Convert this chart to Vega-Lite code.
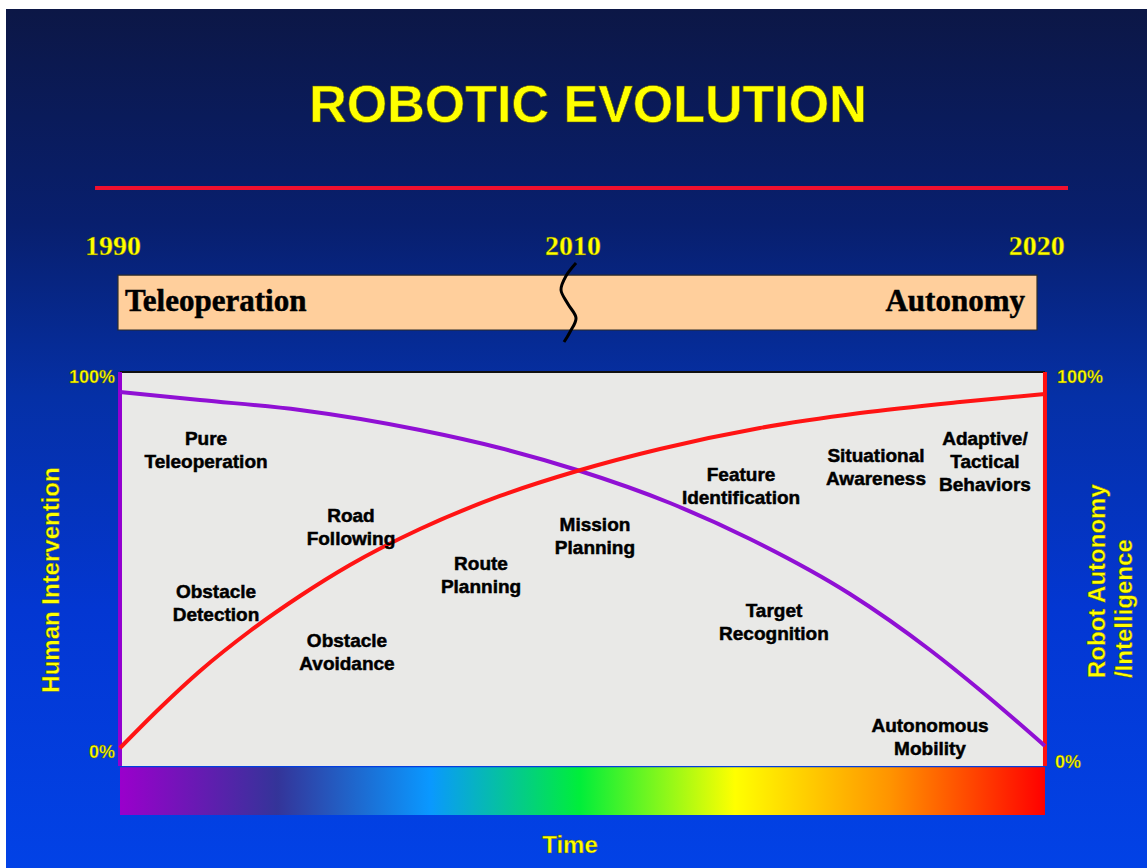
{
  "$schema": "https://vega.github.io/schema/vega-lite/v6.json",
  "width": 1147,
  "height": 868,
  "autosize": {"type": "fit", "contains": "padding"},
  "padding": 0,
  "background": "#ffffff",
  "config": {"view": {"stroke": null}},
  "datasets": {
    "bg": [{"x": -12.324, "x2": 111.03, "y": -25.89, "y2": 192.13}],
    "redline": [{"x": -2.70, "x2": 102.49, "y": 146.7}],
    "years": [
      {"x": -0.76, "y": 131.7, "t": "1990"},
      {"x": 48.97, "y": 131.7, "t": "2010"},
      {"x": 99.1, "y": 131.7, "t": "2020"}
    ],
    "peach": [{"x": -0.22, "x2": 99.14, "y": 110.66, "y2": 124.6}],
    "peachLeft": [{"x": 0.54, "y": 117.8, "t": "Teleoperation"}],
    "peachRight": [{"x": 97.84, "y": 117.8, "t": "Autonomy"}],
    "squiggle": [
      {"o": 1, "x": 49.30, "y": 127.66},
      {"o": 2, "x": 48.22, "y": 124.37},
      {"o": 3, "x": 47.68, "y": 120.81},
      {"o": 4, "x": 48.43, "y": 117.26},
      {"o": 5, "x": 49.30, "y": 113.71},
      {"o": 6, "x": 48.65, "y": 110.15},
      {"o": 7, "x": 48.0, "y": 107.61}
    ],
    "plot": [{"x": 0, "x2": 100, "y": 0, "y2": 100}],
    "rainbow": [{"x": 0, "x2": 100, "y": -12.44, "y2": -0.3}],
    "topBorder": [{"x": 0, "x2": 100, "y": 100}],
    "leftBorder": [{"x": 0, "y": 0, "y2": 100}],
    "rightBorder": [{"x": 100, "y": 0, "y2": 100}],
    "curves": [
      {"s": "Human Intervention", "x": 0, "y": 94.92},
      {"s": "Human Intervention", "x": 8.65, "y": 92.89},
      {"s": "Human Intervention", "x": 19.46, "y": 90.36},
      {"s": "Human Intervention", "x": 32.43, "y": 85.28},
      {"s": "Human Intervention", "x": 41.08, "y": 80.71},
      {"s": "Human Intervention", "x": 49.41, "y": 75.13},
      {"s": "Human Intervention", "x": 59.46, "y": 66.75},
      {"s": "Human Intervention", "x": 68.11, "y": 57.61},
      {"s": "Human Intervention", "x": 78.92, "y": 43.65},
      {"s": "Human Intervention", "x": 87.57, "y": 29.44},
      {"s": "Human Intervention", "x": 92.97, "y": 19.29},
      {"s": "Human Intervention", "x": 100, "y": 5.08},
      {"s": "Robot Autonomy", "x": 0, "y": 4.57},
      {"s": "Robot Autonomy", "x": 4.32, "y": 14.72},
      {"s": "Robot Autonomy", "x": 8.65, "y": 24.11},
      {"s": "Robot Autonomy", "x": 14.05, "y": 34.26},
      {"s": "Robot Autonomy", "x": 19.46, "y": 43.15},
      {"s": "Robot Autonomy", "x": 24.86, "y": 51.02},
      {"s": "Robot Autonomy", "x": 32.43, "y": 60.15},
      {"s": "Robot Autonomy", "x": 41.08, "y": 68.53},
      {"s": "Robot Autonomy", "x": 49.41, "y": 74.87},
      {"s": "Robot Autonomy", "x": 58.38, "y": 80.46},
      {"s": "Robot Autonomy", "x": 69.19, "y": 85.79},
      {"s": "Robot Autonomy", "x": 80.0, "y": 89.59},
      {"s": "Robot Autonomy", "x": 90.81, "y": 92.39},
      {"s": "Robot Autonomy", "x": 100, "y": 94.42}
    ],
    "labels": [
      {"x": 9.30, "y": 83.0, "t": "Pure\nTeleoperation"},
      {"x": 24.97, "y": 63.45, "t": "Road\nFollowing"},
      {"x": 10.38, "y": 44.16, "t": "Obstacle\nDetection"},
      {"x": 24.54, "y": 31.73, "t": "Obstacle\nAvoidance"},
      {"x": 39.03, "y": 51.27, "t": "Route\nPlanning"},
      {"x": 51.35, "y": 61.17, "t": "Mission\nPlanning"},
      {"x": 67.14, "y": 73.86, "t": "Feature\nIdentification"},
      {"x": 81.73, "y": 78.68, "t": "Situational\nAwareness"},
      {"x": 93.51, "y": 83.0, "t": "Adaptive/\nTactical\nBehaviors"},
      {"x": 70.7, "y": 39.34, "t": "Target\nRecognition"},
      {"x": 87.57, "y": 10.15, "t": "Autonomous\nMobility"}
    ],
    "pctLeft": [
      {"x": -0.54, "y": 98.48, "t": "100%"},
      {"x": -0.54, "y": 3.3, "t": "0%"}
    ],
    "pctRight": [
      {"x": 101.3, "y": 98.48, "t": "100%"},
      {"x": 101.08, "y": 0.76, "t": "0%"}
    ],
    "leftTitle": [{"x": -7.35, "y": 47.2, "t": "Human Intervention"}],
    "rightTitle": [{"x": 105.78, "y": 22.34, "t": "Robot Autonomy\n/Intelligence"}],
    "timeTitle": [{"x": 48.65, "y": -20.3, "t": "Time"}],
    "title": [{"x": 50.6, "y": 167.6, "t": "ROBOTIC EVOLUTION"}]
  },
  "encoding": {
    "x": {"field": "x", "type": "quantitative", "scale": {"domain": [-12.973, 111.03], "nice": false, "zero": false}, "axis": null},
    "y": {"field": "y", "type": "quantitative", "scale": {"domain": [-25.89, 194.42], "nice": false, "zero": false}, "axis": null}
  },
  "layer": [
    {
      "data": {"name": "bg"},
      "mark": {"type": "rect", "color": {"gradient": "linear", "x1": 0, "y1": 0, "x2": 0, "y2": 1, "stops": [
        {"offset": 0, "color": "#0c1746"},
        {"offset": 0.25, "color": "#081f6e"},
        {"offset": 0.45, "color": "#0530a6"},
        {"offset": 0.7, "color": "#0337d2"},
        {"offset": 1, "color": "#0242e6"}
      ]}},
      "encoding": {"x2": {"field": "x2"}, "y2": {"field": "y2"}}
    },
    {
      "data": {"name": "redline"},
      "mark": {"type": "rule", "color": "#f0102e", "strokeWidth": 4},
      "encoding": {"x2": {"field": "x2"}}
    },
    {
      "data": {"name": "title"},
      "mark": {"type": "text", "font": "Liberation Sans", "fontWeight": "bold", "fontSize": 52, "color": "#ffff00", "stroke": "#5a5a00", "strokeWidth": 0.6, "align": "center", "baseline": "middle"},
      "encoding": {"text": {"field": "t"}}
    },
    {
      "data": {"name": "years"},
      "mark": {"type": "text", "font": "Liberation Serif", "fontWeight": "bold", "fontSize": 28, "color": "#ffff00", "stroke": "#5a5a00", "strokeWidth": 0.4, "align": "center", "baseline": "middle"},
      "encoding": {"text": {"field": "t"}}
    },
    {
      "data": {"name": "peach"},
      "mark": {"type": "rect", "color": "#ffcf9c", "stroke": "#2a2a2a", "strokeWidth": 1.2},
      "encoding": {"x2": {"field": "x2"}, "y2": {"field": "y2"}}
    },
    {
      "data": {"name": "peachLeft"},
      "mark": {"type": "text", "font": "Liberation Serif", "fontWeight": "bold", "fontSize": 31, "color": "#000000", "stroke": "#000000", "strokeWidth": 0.5, "align": "left", "baseline": "middle"},
      "encoding": {"text": {"field": "t"}}
    },
    {
      "data": {"name": "peachRight"},
      "mark": {"type": "text", "font": "Liberation Serif", "fontWeight": "bold", "fontSize": 31, "color": "#000000", "stroke": "#000000", "strokeWidth": 0.5, "align": "right", "baseline": "middle"},
      "encoding": {"text": {"field": "t"}}
    },
    {
      "data": {"name": "squiggle"},
      "mark": {"type": "line", "color": "#000000", "strokeWidth": 3, "interpolate": "cardinal"},
      "encoding": {"order": {"field": "o", "type": "quantitative"}}
    },
    {
      "data": {"name": "plot"},
      "mark": {"type": "rect", "color": "#e9e9e7"},
      "encoding": {"x2": {"field": "x2"}, "y2": {"field": "y2"}}
    },
    {
      "data": {"name": "rainbow"},
      "mark": {"type": "rect", "color": {"gradient": "linear", "x1": 0, "y1": 0, "x2": 1, "y2": 0, "stops": [
        {"offset": 0, "color": "#9a00cc"},
        {"offset": 0.17, "color": "#343499"},
        {"offset": 0.335, "color": "#0a98ff"},
        {"offset": 0.497, "color": "#00ee3a"},
        {"offset": 0.665, "color": "#ffff00"},
        {"offset": 0.832, "color": "#ff9400"},
        {"offset": 1, "color": "#ff0000"}
      ]}},
      "encoding": {"x2": {"field": "x2"}, "y2": {"field": "y2"}}
    },
    {
      "data": {"name": "topBorder"},
      "mark": {"type": "rule", "color": "#111111", "strokeWidth": 2},
      "encoding": {"x2": {"field": "x2"}}
    },
    {
      "data": {"name": "leftBorder"},
      "mark": {"type": "rule", "color": "#9400d0", "strokeWidth": 4},
      "encoding": {"y2": {"field": "y2"}}
    },
    {
      "data": {"name": "rightBorder"},
      "mark": {"type": "rule", "color": "#ff1010", "strokeWidth": 4},
      "encoding": {"y2": {"field": "y2"}}
    },
    {
      "data": {"name": "curves"},
      "mark": {"type": "line", "strokeWidth": 4, "interpolate": "monotone"},
      "encoding": {
        "color": {"field": "s", "type": "nominal", "scale": {"domain": ["Human Intervention", "Robot Autonomy"], "range": ["#9010d4", "#ff1414"]}, "legend": null}
      }
    },
    {
      "data": {"name": "labels"},
      "mark": {"type": "text", "font": "Liberation Sans", "fontWeight": "bold", "fontSize": 19, "color": "#000000", "stroke": "#000000", "strokeWidth": 0.5, "align": "center", "baseline": "middle", "lineBreak": "\n", "lineHeight": 23},
      "encoding": {"text": {"field": "t"}}
    },
    {
      "data": {"name": "pctLeft"},
      "mark": {"type": "text", "font": "Liberation Sans", "fontWeight": "bold", "fontSize": 18, "color": "#ffff00", "stroke": "#5a5a00", "strokeWidth": 0.4, "align": "right", "baseline": "middle"},
      "encoding": {"text": {"field": "t"}}
    },
    {
      "data": {"name": "pctRight"},
      "mark": {"type": "text", "font": "Liberation Sans", "fontWeight": "bold", "fontSize": 18, "color": "#ffff00", "stroke": "#5a5a00", "strokeWidth": 0.4, "align": "left", "baseline": "middle"},
      "encoding": {"text": {"field": "t"}}
    },
    {
      "data": {"name": "leftTitle"},
      "mark": {"type": "text", "font": "Liberation Sans", "fontWeight": "bold", "fontSize": 24, "color": "#ffff00", "stroke": "#5a5a00", "strokeWidth": 0.4, "align": "center", "baseline": "middle", "angle": 270},
      "encoding": {"text": {"field": "t"}}
    },
    {
      "data": {"name": "rightTitle"},
      "mark": {"type": "text", "font": "Liberation Sans", "fontWeight": "bold", "fontSize": 24, "color": "#ffff00", "stroke": "#5a5a00", "strokeWidth": 0.4, "align": "left", "baseline": "middle", "angle": 270, "lineBreak": "\n", "lineHeight": 27},
      "encoding": {"text": {"field": "t"}}
    },
    {
      "data": {"name": "timeTitle"},
      "mark": {"type": "text", "font": "Liberation Sans", "fontWeight": "bold", "fontSize": 24, "color": "#ffff00", "stroke": "#5a5a00", "strokeWidth": 0.4, "align": "center", "baseline": "middle"},
      "encoding": {"text": {"field": "t"}}
    }
  ]
}
